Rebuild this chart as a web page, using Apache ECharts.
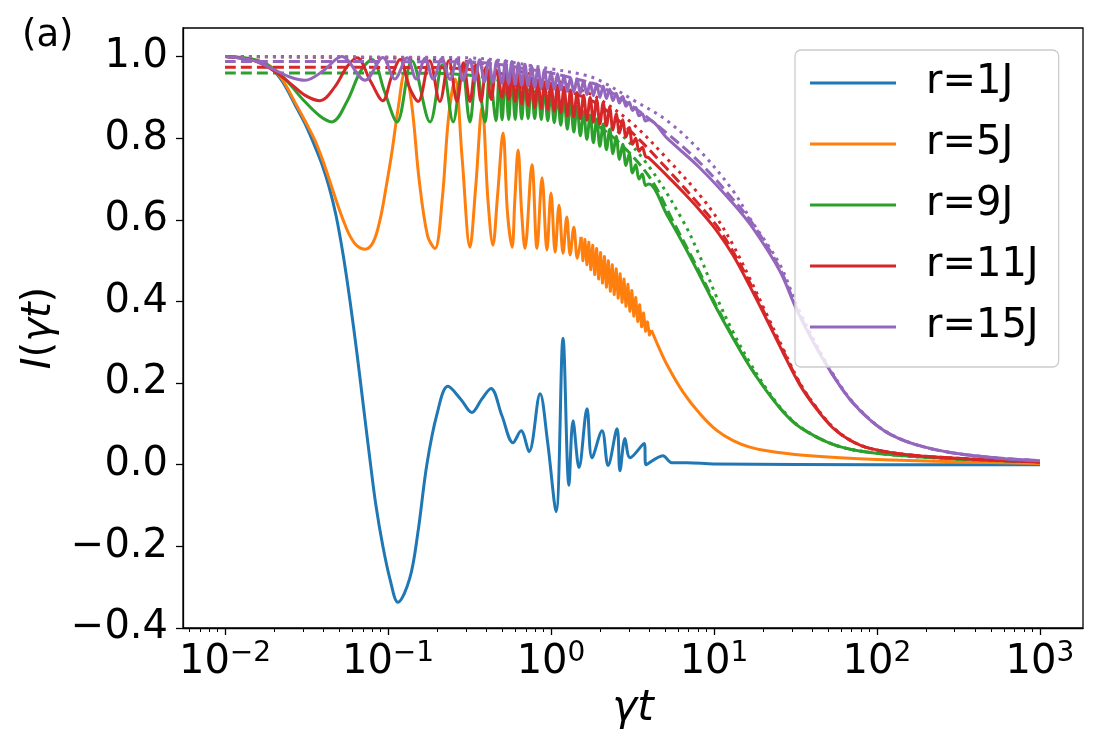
<!DOCTYPE html>
<html>
<head>
<meta charset="utf-8">
<script src="https://cdn.jsdelivr.net/npm/echarts@6.0.0/dist/echarts.min.js"></script>
<style>
  html, body { margin: 0; background: #fff; }
  #chart { width: 1106px; height: 750px; }
</style>
</head>
<body>
<div id="chart"></div>
<script>
// values: x = γt (log axis), y = I(γt)
const xMajorTicks = [0.01, 0.1, 1, 10, 100, 1000];
const xMinorTicks = [
  0.006, 0.007, 0.008, 0.009,
  0.02, 0.03, 0.04, 0.05, 0.06, 0.07, 0.08, 0.09,
  0.2, 0.3, 0.4, 0.5, 0.6, 0.7, 0.8, 0.9,
  2, 3, 4, 5, 6, 7, 8, 9,
  20, 30, 40, 50, 60, 70, 80, 90,
  200, 300, 400, 500, 600, 700, 800, 900
];
const yTicks = [-0.4, -0.2, 0, 0.2, 0.4, 0.6, 0.8, 1.0];
const legendNames = ['r=1J', 'r=5J', 'r=9J', 'r=11J', 'r=15J'];
const colors = ['#1f77b4', '#ff7f0e', '#2ca02c', '#d62728', '#9467bd'];

// r = 1J
const r1Solid = [
  [0.01, 1.0], [0.0171, 0.985], [0.0217, 0.948], [0.0277, 0.872], [0.031, 0.835],
  [0.0356, 0.78], [0.0394, 0.735], [0.0435, 0.68], [0.048, 0.61], [0.053, 0.515],
  [0.0585, 0.4], [0.0646, 0.27], [0.0703, 0.15], [0.0776, 0.01], [0.0843, -0.1],
  [0.093, -0.2], [0.1028, -0.28], [0.115, -0.337], [0.136, -0.278], [0.153, -0.162],
  [0.173, 0.0], [0.2, 0.125], [0.233, 0.192], [0.28, 0.16], [0.327, 0.128],
  [0.375, 0.16], [0.428, 0.187], [0.5, 0.12], [0.585, 0.054], [0.655, 0.083],
  [0.733, 0.032], [0.857, 0.174], [0.95, 0.06], [1.074, -0.115], [1.185, 0.31],
  [1.288, -0.05], [1.365, 0.108], [1.486, -0.007], [1.663, 0.137], [1.786, 0.017],
  [2.056, 0.083], [2.239, -0.002], [2.541, 0.088], [2.649, -0.015], [2.844, 0.064],
  [3.055, 0.017], [3.724, 0.052], [3.83, 0.0], [4.86, 0.022], [5.5, 0.005],
  [6.82, 0.005], [10, 0.002], [100, 0.0], [1000, 0.0]
];

// r = 5J: slow beats, then a dense fuzz, then the smooth tail
const r5Early = [
  [0.01, 1.0], [0.0171, 0.986], [0.0217, 0.952], [0.0277, 0.878], [0.031, 0.842],
  [0.0356, 0.795], [0.0394, 0.75], [0.0435, 0.7], [0.048, 0.648], [0.053, 0.6],
  [0.0585, 0.56], [0.0646, 0.536], [0.0723, 0.528], [0.081, 0.545], [0.0893, 0.6],
  [0.0973, 0.68], [0.106, 0.77], [0.115, 0.87], [0.127, 0.963], [0.14, 0.88],
  [0.155, 0.7], [0.175, 0.56], [0.194, 0.53], [0.215, 0.65], [0.235, 0.85],
  [0.258, 0.945], [0.285, 0.75], [0.318, 0.533], [0.345, 0.68], [0.378, 0.877],
  [0.41, 0.65], [0.44, 0.538], [0.47, 0.66], [0.508, 0.813], [0.54, 0.62],
  [0.577, 0.533], [0.6, 0.65], [0.628, 0.771], [0.66, 0.62], [0.692, 0.53],
  [0.764, 0.735], [0.82, 0.53], [0.881, 0.703], [0.944, 0.526], [1.0, 0.666],
  [1.06, 0.521], [1.12, 0.636], [1.185, 0.518], [1.25, 0.607], [1.31, 0.514],
  [1.38, 0.582], [1.45, 0.506], [1.53, 0.558]
];
const r5Band = [
  [1.53, 0.558], [1.57, 0.5], [1.614, 0.552], [1.66, 0.49], [1.706, 0.545],
  [1.754, 0.478], [1.803, 0.538], [1.854, 0.466], [1.905, 0.53], [1.959, 0.455],
  [2.014, 0.52], [2.07, 0.445], [2.128, 0.51], [2.188, 0.435], [2.249, 0.5],
  [2.312, 0.425], [2.377, 0.49], [2.443, 0.417], [2.512, 0.48], [2.582, 0.408],
  [2.655, 0.468], [2.729, 0.398], [2.805, 0.455], [2.884, 0.388], [2.965, 0.442],
  [3.048, 0.376], [3.133, 0.427], [3.221, 0.364], [3.311, 0.41], [3.404, 0.351],
  [3.499, 0.392], [3.597, 0.338], [3.698, 0.372], [3.802, 0.327], [3.908, 0.35],
  [4.018, 0.318], [4.13, 0.33]
];
const r5Late = [
  [4.13, 0.33], [4.5, 0.295], [5.15, 0.245], [6.46, 0.178], [8.2, 0.125],
  [10.4, 0.084], [13.1, 0.059], [16.6, 0.043], [21.1, 0.034], [33.7, 0.024],
  [100, 0.013], [1000, 0.003]
];

// fast oscillation zone shared by r = 9J, 11J, 15J (alternating troughs / crests)
const bandX = [
  0.501, 0.525, 0.55, 0.575, 0.603, 0.631, 0.661, 0.692, 0.724, 0.759,
  0.794, 0.832, 0.871, 0.912, 0.955, 1.0, 1.047, 1.096, 1.148, 1.202,
  1.259, 1.318, 1.38, 1.445, 1.514, 1.585, 1.66, 1.738, 1.82, 1.905,
  1.995, 2.089, 2.188, 2.291, 2.399, 2.512, 2.63, 2.754, 2.884, 3.02,
  3.162, 3.311, 3.467, 3.631, 3.802, 3.981
];

// r = 9J
const r9Early = [
  [0.01, 1.0], [0.016, 0.99], [0.022, 0.955], [0.03, 0.895], [0.038, 0.855],
  [0.0453, 0.84], [0.056, 0.89], [0.068, 0.965], [0.0798, 0.993], [0.095, 0.915],
  [0.1135, 0.84], [0.14, 0.99], [0.181, 0.84], [0.215, 0.98], [0.251, 0.84],
  [0.285, 0.976], [0.318, 0.84], [0.35, 0.968], [0.394, 0.84], [0.42, 0.96],
  [0.46, 0.843], [0.48, 0.955]
];
const r9Band = [
  0.845, 0.953, 0.846, 0.95, 0.846, 0.945, 0.847, 0.94, 0.848, 0.934,
  0.848, 0.928, 0.846, 0.92, 0.843, 0.912, 0.838, 0.905, 0.832, 0.898,
  0.822, 0.89, 0.815, 0.878, 0.806, 0.865, 0.797, 0.856, 0.789, 0.847,
  0.78, 0.835, 0.772, 0.822, 0.762, 0.805, 0.748, 0.785, 0.733, 0.762,
  0.715, 0.735, 0.7, 0.712, 0.684, 0.688
];
const r9Late = [
  [5.15, 0.612], [6.46, 0.542], [8.2, 0.463], [10.4, 0.382],
  [13.1, 0.31], [16.6, 0.24], [21.1, 0.18], [26.5, 0.13], [33.7, 0.092],
  [53.7, 0.05], [90.6, 0.03], [281, 0.015], [1000, 0.007]
];
const r9Dashed = [
  [0.01, 0.96], [0.2, 0.959], [0.35, 0.952], [0.5, 0.94], [0.7, 0.92],
  [1.0, 0.9], [1.57, 0.855], [2.54, 0.794], [4.05, 0.703], [5.6, 0.597],
  [8.2, 0.47], [10.4, 0.387], [13.1, 0.313], [16.6, 0.242], [21.1, 0.181],
  [26.5, 0.131], [33.7, 0.092], [53.7, 0.05], [90.6, 0.03], [281, 0.015], [1000, 0.007]
];
const r9Dotted = [
  [0.01, 1.0], [0.1, 0.997], [0.2, 0.99], [0.35, 0.975], [0.5, 0.96],
  [0.7, 0.94], [1.0, 0.91], [1.6, 0.865], [2.54, 0.818], [4.05, 0.727],
  [6.46, 0.597], [8.2, 0.51], [10.4, 0.41], [13.1, 0.325], [16.6, 0.25],
  [21.1, 0.185], [26.5, 0.133], [33.7, 0.093], [53.7, 0.05], [90.6, 0.03],
  [281, 0.015], [1000, 0.007]
];

// r = 11J
const r11Early = [
  [0.01, 1.0], [0.015, 0.99], [0.02, 0.965], [0.025, 0.935], [0.031, 0.905],
  [0.0383, 0.892], [0.047, 0.925], [0.056, 0.975], [0.0646, 0.997], [0.078, 0.94],
  [0.093, 0.892], [0.105, 0.95], [0.1186, 0.993], [0.135, 0.925], [0.153, 0.89],
  [0.18, 0.99], [0.208, 0.89], [0.236, 0.99], [0.265, 0.89], [0.29, 0.985],
  [0.318, 0.89], [0.345, 0.98], [0.372, 0.89], [0.4, 0.975], [0.43, 0.895], [0.46, 0.968]
];
const r11Band = [
  0.9, 0.965, 0.895, 0.962, 0.89, 0.955, 0.884, 0.952, 0.88, 0.947,
  0.875, 0.942, 0.873, 0.938, 0.87, 0.935, 0.866, 0.93, 0.862, 0.925,
  0.855, 0.918, 0.852, 0.912, 0.848, 0.905, 0.844, 0.9, 0.84, 0.895,
  0.835, 0.887, 0.83, 0.875, 0.82, 0.86, 0.812, 0.845, 0.803, 0.826,
  0.785, 0.8, 0.768, 0.778, 0.755, 0.752
];
const r11Late = [
  [5.15, 0.708], [6.46, 0.668], [8.2, 0.623], [10.4, 0.573], [13.1, 0.513],
  [16.6, 0.437], [21.1, 0.355], [26.5, 0.275], [33.7, 0.195], [42.9, 0.135],
  [53.7, 0.09], [68.3, 0.06], [90.6, 0.04], [159, 0.024], [429, 0.013], [1000, 0.007]
];
const r11Dashed = [
  [0.01, 0.974], [0.2, 0.973], [0.35, 0.967], [0.5, 0.958], [0.7, 0.945],
  [1.0, 0.93], [1.6, 0.9], [2.0, 0.88], [3.18, 0.812], [5.15, 0.725],
  [8.2, 0.635], [10.4, 0.585], [13.1, 0.522], [16.6, 0.446], [21.1, 0.36],
  [26.5, 0.28], [33.7, 0.198], [42.9, 0.137], [53.7, 0.091], [68.3, 0.06],
  [90.6, 0.04], [159, 0.024], [429, 0.013], [1000, 0.007]
];
const r11Dotted = [
  [0.01, 1.0], [0.2, 0.995], [0.35, 0.985], [0.5, 0.975], [0.7, 0.96],
  [1.0, 0.945], [1.6, 0.915], [2.0, 0.895], [3.18, 0.835], [5.15, 0.75],
  [8.2, 0.66], [10.4, 0.605], [13.1, 0.538], [16.6, 0.456], [21.1, 0.368],
  [26.5, 0.285], [33.7, 0.2], [42.9, 0.138], [53.7, 0.092], [68.3, 0.061],
  [90.6, 0.04], [159, 0.024], [429, 0.013], [1000, 0.007]
];

// r = 15J
const r15Early = [
  [0.01, 1.0], [0.015, 0.99], [0.02, 0.968], [0.025, 0.95], [0.031, 0.942],
  [0.04, 0.965], [0.052, 1.0], [0.0723, 0.942], [0.093, 0.998], [0.11, 0.945],
  [0.131, 0.997], [0.149, 0.945], [0.169, 0.996], [0.189, 0.945], [0.214, 0.995],
  [0.24, 0.944], [0.265, 0.994], [0.288, 0.942], [0.318, 0.993], [0.34, 0.94],
  [0.365, 0.992], [0.39, 0.938], [0.415, 0.991], [0.44, 0.937], [0.465, 0.99]
];
const r15Band = [
  0.935, 0.99, 0.934, 0.988, 0.932, 0.984, 0.93, 0.981, 0.928, 0.977,
  0.925, 0.972, 0.924, 0.968, 0.922, 0.962, 0.92, 0.958, 0.918, 0.953,
  0.915, 0.948, 0.913, 0.945, 0.91, 0.94, 0.907, 0.936, 0.904, 0.933,
  0.9, 0.928, 0.897, 0.92, 0.892, 0.91, 0.886, 0.902, 0.878, 0.888,
  0.868, 0.875, 0.855, 0.86, 0.842, 0.845
];
const r15Late = [
  [5.15, 0.8], [8.2, 0.727], [13.1, 0.64], [17.3, 0.58], [25.4, 0.474],
  [32.3, 0.378], [42, 0.29], [53.7, 0.219], [68.3, 0.16], [90.6, 0.11],
  [120, 0.075], [171, 0.05], [281, 0.03], [569, 0.016], [1000, 0.01]
];
const r15Dashed = [
  [0.01, 0.988], [0.3, 0.987], [0.5, 0.98], [0.7, 0.97], [1.0, 0.96],
  [1.6, 0.94], [2.0, 0.928], [3.18, 0.877], [5.15, 0.812], [8.2, 0.74],
  [13.1, 0.65], [17.3, 0.59], [25.4, 0.48], [32.3, 0.382], [42, 0.292],
  [53.7, 0.22], [68.3, 0.16], [90.6, 0.11], [120, 0.075], [171, 0.05],
  [281, 0.03], [569, 0.016], [1000, 0.01]
];
const r15Dotted = [
  [0.01, 1.0], [0.3, 0.997], [0.5, 0.99], [0.7, 0.98], [1.0, 0.97],
  [1.6, 0.955], [2.0, 0.941], [3.18, 0.894], [5.15, 0.843], [8.2, 0.769],
  [13.1, 0.671], [16.6, 0.604], [25.4, 0.49], [32.3, 0.39], [42, 0.298],
  [53.7, 0.223], [68.3, 0.162], [90.6, 0.111], [120, 0.076], [171, 0.05],
  [281, 0.03], [569, 0.016], [1000, 0.01]
];

const withBand = (early, band, late) =>
  early.concat(bandX.map((x, i) => [x, band[i]]), late);

const r9Solid = withBand(r9Early, r9Band, r9Late);
const r11Solid = withBand(r11Early, r11Band, r11Late);
const r15Solid = withBand(r15Early, r15Band, r15Late);

const FONT = 'DejaVu Sans';
const DASH = [11, 5];
const DOT = [3, 5];

function line(name, data, color, dash, smooth) {
  return {
    type: 'line',
    name: name,
    data: data,
    symbol: 'none',
    showSymbol: false,
    smooth: smooth === undefined ? 0.35 : smooth,
    animation: false,
    lineStyle: { color: color, width: 3, type: dash || 'solid', cap: 'butt', join: 'round' },
    itemStyle: { color: color },
    emphasis: { disabled: true }
  };
}

const series = [
  line('r=1J', r1Solid, colors[0]),
  line('r=5J', r5Early, colors[1]),
  line('r=5J fuzz', r5Band, colors[1], null, false),
  line('r=5J tail', r5Late, colors[1]),
  line('r=9J', r9Solid, colors[2]),
  line('r=9J dashed', r9Dashed, colors[2], DASH),
  line('r=9J dotted', r9Dotted, colors[2], DOT),
  line('r=11J', r11Solid, colors[3]),
  line('r=11J dashed', r11Dashed, colors[3], DASH),
  line('r=11J dotted', r11Dotted, colors[3], DOT),
  line('r=15J', r15Solid, colors[4]),
  line('r=15J dashed', r15Dashed, colors[4], DASH),
  line('r=15J dotted', r15Dotted, colors[4], DOT)
];

const xLabel = (v) => {
  const p = Math.round(Math.log10(v));
  return '{b|10}{s|' + (p < 0 ? '\u2212' + (-p) : p) + '}';
};
const yLabel = (v) => (v < 0 ? '\u2212' + Math.abs(v).toFixed(1) : v.toFixed(1));

const chart = echarts.init(document.getElementById('chart'), null, { renderer: 'canvas' });

chart.setOption({
  animation: false,
  backgroundColor: '#fff',
  grid: {
    left: 183, right: 23, top: 28, bottom: 122,
    show: true, borderColor: '#000', borderWidth: 1.3,
    outerBoundsMode: 'none'
  },
  xAxis: [
    {
      type: 'log',
      min: 0.005521,
      max: 1837,
      name: 'γt',
      nameLocation: 'middle',
      nameGap: 60,
      nameTextStyle: { fontFamily: FONT, fontSize: 42, fontStyle: 'italic', color: '#000' },
      axisLine: { show: true, onZero: false, lineStyle: { color: '#000', width: 1.3 } },
      axisTick: { show: true, inside: false, length: 7, lineStyle: { color: '#000', width: 1.3 }, customValues: xMajorTicks },
      axisLabel: {
        customValues: xMajorTicks,
        margin: 12,
        formatter: xLabel,
        rich: {
          b: { fontFamily: FONT, fontSize: 40, color: '#000', lineHeight: 46 },
          s: { fontFamily: FONT, fontSize: 28, color: '#000', verticalAlign: 'top', lineHeight: 26 }
        }
      },
      splitLine: { show: false },
      minorTick: { show: false },
      minorSplitLine: { show: false }
    },
    {
      type: 'log',
      min: 0.005521,
      max: 1837,
      position: 'bottom',
      axisLine: { show: false, onZero: false },
      axisTick: { show: true, inside: false, length: 4, lineStyle: { color: '#000', width: 1 }, customValues: xMinorTicks },
      axisLabel: { show: false },
      splitLine: { show: false }
    }
  ],
  yAxis: {
    type: 'value',
    min: -0.4,
    max: 1.07,
    interval: 0.2,
    name: '{i|I}{r|(}{i|γt}{r|)}',
    nameLocation: 'middle',
    nameGap: 121,
    nameTextStyle: {
      rich: {
        i: { fontFamily: FONT, fontSize: 40, fontStyle: 'italic', color: '#000' },
        r: { fontFamily: FONT, fontSize: 40, color: '#000' }
      }
    },
    axisLine: { show: true, lineStyle: { color: '#000', width: 1.3 } },
    axisTick: { show: true, inside: false, length: 7, lineStyle: { color: '#000', width: 1.3 }, customValues: yTicks },
    axisLabel: {
      customValues: yTicks,
      margin: 15,
      formatter: yLabel,
      fontFamily: FONT,
      fontSize: 40,
      color: '#000'
    },
    splitLine: { show: false }
  },
  legend: {
    data: legendNames.map((n) => ({ name: n, icon: 'rect' })),
    orient: 'vertical',
    left: 795,
    top: 50,
    itemWidth: 86,
    itemHeight: 3,
    itemGap: 21,
    padding: [13, 20, 20, 15],
    backgroundColor: 'rgba(255,255,255,0.8)',
    borderColor: '#cccccc',
    borderWidth: 1.3,
    borderRadius: 6,
    selectedMode: false,
    textStyle: { fontFamily: FONT, fontSize: 40, color: '#000', lineHeight: 40, padding: [0, 0, 0, 25] }
  },
  graphic: [
    {
      type: 'text',
      left: 22,
      top: 18,
      style: { text: '(a)', font: '37px "DejaVu Sans"', fill: '#000' }
    }
  ],
  series: series
});
</script>
</body>
</html>
